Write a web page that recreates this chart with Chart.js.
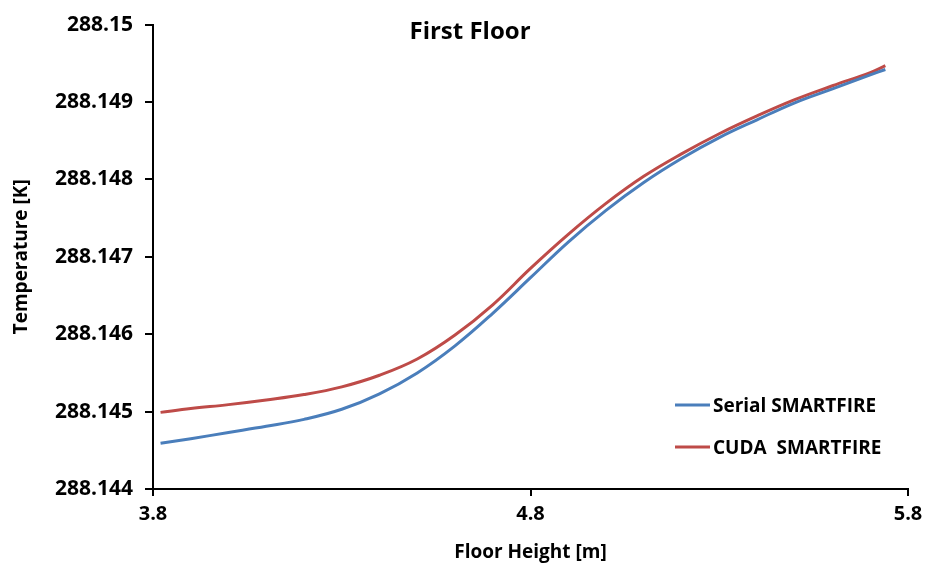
<!DOCTYPE html>
<html>
<head>
<meta charset="utf-8">
<title>First Floor</title>
<script src="https://cdn.jsdelivr.net/npm/chart.js@4.4.1/dist/chart.umd.min.js"></script>
<style>
  html, body { margin: 0; padding: 0; background: #ffffff; }
  #wrap { width: 933px; height: 571px; position: relative; }
</style>
</head>
<body>
<div id="wrap"><canvas id="chart" width="933" height="571"></canvas></div>
<script>
// Floor height sample positions [m]
const floorHeight = [3.82, 3.9, 4.0, 4.1, 4.2, 4.3, 4.4, 4.5, 4.6, 4.7, 4.8,
                     4.9, 5.0, 5.1, 5.2, 5.3, 5.4, 5.5, 5.6, 5.7, 5.74];

// Temperature [K], serial solver
const serialTemp = [288.14459, 288.14465, 288.14473, 288.14481, 288.14490, 288.14503,
                    288.14523, 288.14550, 288.14585, 288.14627, 288.14673, 288.14719,
                    288.14760, 288.14796, 288.14827, 288.14854, 288.14877, 288.14899,
                    288.14917, 288.14935, 288.14942];

// Temperature [K], CUDA solver
const cudaTemp = [288.14499, 288.14504, 288.14509, 288.14515, 288.14522, 288.14532,
                  288.14547, 288.14568, 288.14599, 288.14638, 288.14685, 288.14729,
                  288.14769, 288.14804, 288.14833, 288.14859, 288.14882, 288.14903,
                  288.14921, 288.14938, 288.14947];

const seriesNames = ['Serial SMARTFIRE', 'CUDA  SMARTFIRE'];
const seriesColors = ['#4a7ebb', '#be4b48'];
const chartTitle = 'First Floor';
const xTitle = 'Floor Height [m]';
const yTitle = 'Temperature [K]';

const FONT = '"Open Sans", "Liberation Sans", sans-serif';

function toPoints(xs, ys) {
  return xs.map((x, i) => ({ x: x, y: ys[i] }));
}

// Title and legend are drawn inside the plot area
const overlayPlugin = {
  id: 'overlay',
  afterDraw(chart) {
    const ctx = chart.ctx;
    ctx.save();
    ctx.fillStyle = '#000';
    ctx.font = 'bold 24px ' + FONT;
    ctx.textAlign = 'center';
    ctx.textBaseline = 'middle';
    ctx.fillText(chartTitle, 470, 32);

    ctx.font = 'bold 19px ' + FONT;
    ctx.textAlign = 'left';
    const rows = [405, 447];
    seriesNames.forEach((name, i) => {
      const y = rows[i];
      ctx.strokeStyle = seriesColors[i];
      ctx.lineWidth = 3;
      ctx.beginPath();
      ctx.moveTo(675, y);
      ctx.lineTo(710, y);
      ctx.stroke();
      ctx.fillText(name, 713, y + 2);
    });
    ctx.restore();
  }
};

const fmt = v => String(Number(Number(v).toFixed(3)));

function lineSet(i, ys) {
  return {
    label: seriesNames[i],
    data: toPoints(floorHeight, ys),
    borderColor: seriesColors[i],
    borderWidth: 3,
    pointRadius: 0,
    tension: 0.4,
    fill: false
  };
}

new Chart(document.getElementById('chart'), {
  type: 'line',
  data: {
    datasets: [lineSet(0, serialTemp), lineSet(1, cudaTemp)]
  },
  options: {
    responsive: false,
    animation: false,
    layout: { padding: { top: 22, right: 25, bottom: 0, left: 0 } },
    plugins: {
      legend: { display: false },
      title: { display: false },
      tooltip: { enabled: false }
    },
    scales: {
      x: {
        type: 'linear',
        min: 3.8,
        max: 5.8,
        afterFit(scale) { scale.height = 82; },
        ticks: {
          stepSize: 1,
          color: '#000',
          font: { family: FONT, size: 20, weight: 'bold' },
          padding: 6,
          callback: v => fmt(v)
        },
        grid: { drawOnChartArea: false, color: '#000', lineWidth: 2, tickLength: 7 },
        border: { color: '#000', width: 2 },
        title: {
          display: true,
          text: xTitle,
          color: '#000',
          font: { family: FONT, size: 19, weight: 'bold' },
          padding: { top: 0, bottom: 7 }
        }
      },
      y: {
        type: 'linear',
        min: 288.144,
        max: 288.15,
        afterFit(scale) { scale.width = 153; },
        ticks: {
          stepSize: 0.001,
          color: '#000',
          font: { family: FONT, size: 21, weight: 'bold' },
          padding: 12,
          callback: v => fmt(v)
        },
        grid: { drawOnChartArea: false, color: '#000', lineWidth: 2, tickLength: 8 },
        border: { color: '#000', width: 2 },
        title: {
          display: true,
          text: yTitle,
          color: '#000',
          font: { family: FONT, size: 19, weight: 'bold' },
          padding: { top: 10, bottom: 0 }
        }
      }
    }
  },
  plugins: [overlayPlugin]
});
</script>
</body>
</html>
